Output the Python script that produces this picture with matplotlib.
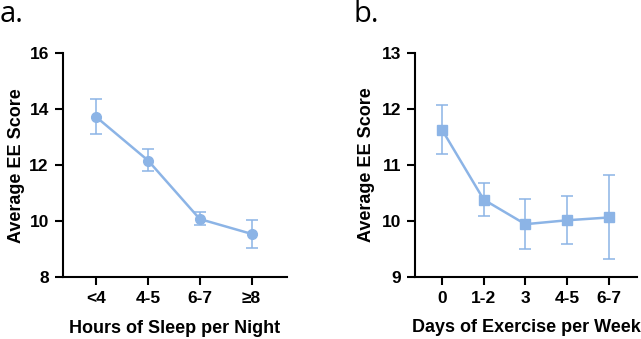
import matplotlib
matplotlib.use("Agg")
import matplotlib.pyplot as plt

sleep_cats = ["<4", "4-5", "6-7", "≥8"]
sleep_mean = [13.72, 12.17, 10.08, 9.55]
sleep_lo = [13.10, 11.78, 9.85, 9.04]
sleep_hi = [14.37, 12.57, 10.32, 10.04]

ex_cats = ["0", "1-2", "3", "4-5", "6-7"]
ex_mean = [11.63, 10.38, 9.94, 10.01, 10.06]
ex_lo = [11.19, 10.09, 9.49, 9.58, 9.31]
ex_hi = [12.07, 10.68, 10.40, 10.45, 10.82]

color = "#8cb4e6"
plt.rcParams['font.family'] = ['Liberation Sans', 'DejaVu Sans']

fig = plt.figure(figsize=(6.41, 3.39), dpi=100)
ax1 = fig.add_axes([0.0978, 0.182, 0.3495, 0.661])
ax2 = fig.add_axes([0.6474, 0.1838, 0.3463, 0.659])


def draw(ax, cats, mean, lo, hi, marker, ms, ylim, yticks, xlabel, ypad):
    x = list(range(len(cats)))
    yerr = [[m - l for m, l in zip(mean, lo)], [h - m for m, h in zip(mean, hi)]]
    ax.errorbar(x, mean, yerr=yerr, color=color, marker=marker, ms=ms,
                lw=1.8, elinewidth=1.1, capsize=4, capthick=1.1, clip_on=False)
    ax.set_xlim(-0.65, len(cats) - 1 + 0.68)
    ax.set_ylim(*ylim)
    ax.set_yticks(yticks)
    ax.set_xticks(x)
    ax.set_xticklabels(cats)
    for s in ["top", "right"]:
        ax.spines[s].set_visible(False)
    for s in ["left", "bottom"]:
        ax.spines[s].set_linewidth(1.5)
    ax.tick_params(axis="both", width=1.5, length=6, labelsize=12.5, pad=4)
    for lab in ax.get_xticklabels() + ax.get_yticklabels():
        lab.set_fontweight("bold")
    ax.set_xlabel(xlabel, fontsize=13, fontweight="bold", labelpad=10)
    ax.set_ylabel("Average EE Score", fontsize=13, fontweight="bold", labelpad=ypad)


draw(ax1, sleep_cats, sleep_mean, sleep_lo, sleep_hi, "o", 7, (8, 16), [8, 10, 12, 14, 16],
     "Hours of Sleep per Night", 3)
draw(ax2, ex_cats, ex_mean, ex_lo, ex_hi, "s", 6.5, (9, 13), [9, 10, 11, 12, 13],
     "Days of Exercise per Week", 5)

fig.text(0.0, 1.0, "a.", fontsize=21, family=["Open Sans", "DejaVu Sans"], va="top", ha="left")
fig.text(0.552, 1.0, "b.", fontsize=21, family=["Open Sans", "DejaVu Sans"], va="top", ha="left")

fig.savefig("out.png", dpi=100)
